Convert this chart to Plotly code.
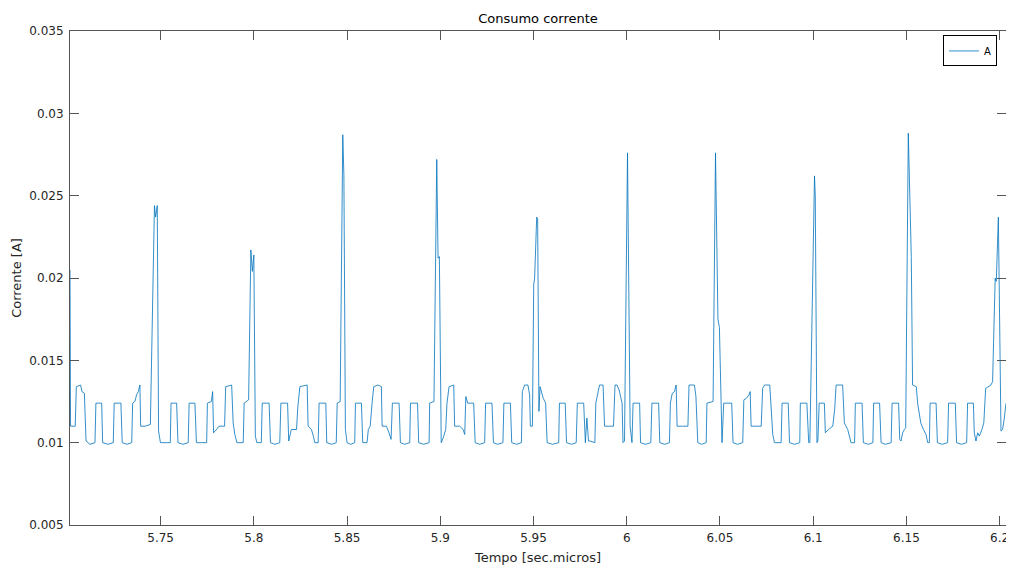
import plotly.graph_objects as go

# Time [s] and current [A]
time_s = [
    5.7014, 5.7017, 5.7042, 5.7048, 5.7071, 5.7078, 5.7091, 5.7100, 5.7121, 5.7148,
    5.7153, 5.7184, 5.7189, 5.7218, 5.7246, 5.7251, 5.7287, 5.7294, 5.7320, 5.7345,
    5.7350, 5.7362, 5.7371, 5.7380, 5.7389, 5.7393, 5.7416, 5.7445, 5.7467, 5.7473,
    5.7482, 5.7489, 5.7499, 5.7528, 5.7552, 5.7556, 5.7586, 5.7593, 5.7620, 5.7648,
    5.7653, 5.7684, 5.7692, 5.7721, 5.7747, 5.7751, 5.7772, 5.7779, 5.7784, 5.7800,
    5.7813, 5.7843, 5.7849, 5.7881, 5.7889, 5.7898, 5.7909, 5.7943, 5.7948, 5.7972,
    5.7984, 5.7992, 5.8000, 5.8008, 5.8016, 5.8040, 5.8045, 5.8082, 5.8089, 5.8113,
    5.8139, 5.8145, 5.8181, 5.8187, 5.8201, 5.8229, 5.8236, 5.8247, 5.8286, 5.8291,
    5.8309, 5.8319, 5.8327, 5.8345, 5.8350, 5.8386, 5.8391, 5.8418, 5.8442, 5.8447,
    5.8463, 5.8477, 5.8483, 5.8491, 5.8500, 5.8520, 5.8541, 5.8545, 5.8577, 5.8584,
    5.8607, 5.8614, 5.8624, 5.8635, 5.8643, 5.8665, 5.8684, 5.8688, 5.8711, 5.8725,
    5.8736, 5.8743, 5.8779, 5.8786, 5.8809, 5.8836, 5.8840, 5.8878, 5.8884, 5.8911,
    5.8940, 5.8943, 5.8966, 5.8981, 5.8988, 5.8995, 5.9005, 5.9016, 5.9029, 5.9036,
    5.9047, 5.9072, 5.9077, 5.9104, 5.9122, 5.9131, 5.9137, 5.9147, 5.9179, 5.9187,
    5.9211, 5.9238, 5.9243, 5.9277, 5.9285, 5.9308, 5.9336, 5.9341, 5.9376, 5.9383,
    5.9410, 5.9435, 5.9440, 5.9452, 5.9470, 5.9479, 5.9483, 5.9494, 5.9501, 5.9506,
    5.9517, 5.9522, 5.9529, 5.9535, 5.9543, 5.9552, 5.9565, 5.9573, 5.9602, 5.9635,
    5.9639, 5.9670, 5.9677, 5.9704, 5.9729, 5.9735, 5.9769, 5.9774, 5.9778, 5.9786,
    5.9795, 5.9803, 5.9829, 5.9834, 5.9845, 5.9854, 5.9873, 5.9881, 5.9908, 5.9929,
    5.9937, 5.9948, 5.9959, 5.9970, 5.9975, 5.9980, 5.9988, 6.0004, 6.0018, 6.0028,
    6.0034, 6.0069, 6.0074, 6.0101, 6.0129, 6.0135, 6.0171, 6.0177, 6.0203, 6.0229,
    6.0234, 6.0244, 6.0256, 6.0265, 6.0270, 6.0299, 6.0328, 6.0334, 6.0363, 6.0371,
    6.0381, 6.0401, 6.0426, 6.0430, 6.0463, 6.0476, 6.0484, 6.0489, 6.0497, 6.0511,
    6.0520, 6.0563, 6.0570, 6.0594, 6.0622, 6.0628, 6.0642, 6.0655, 6.0662, 6.0667,
    6.0690, 6.0721, 6.0729, 6.0739, 6.0767, 6.0776, 6.0783, 6.0792, 6.0828, 6.0833,
    6.0866, 6.0873, 6.0899, 6.0928, 6.0931, 6.0966, 6.0976, 6.0982, 6.1007, 6.1011,
    6.1020, 6.1025, 6.1032, 6.1060, 6.1065, 6.1082, 6.1105, 6.1115, 6.1123, 6.1158,
    6.1167, 6.1185, 6.1194, 6.1203, 6.1222, 6.1226, 6.1262, 6.1269, 6.1296, 6.1320,
    6.1324, 6.1356, 6.1364, 6.1387, 6.1418, 6.1423, 6.1458, 6.1464, 6.1471, 6.1480,
    6.1489, 6.1496, 6.1510, 6.1517, 6.1526, 6.1533, 6.1553, 6.1560, 6.1566, 6.1577,
    6.1591, 6.1605, 6.1614, 6.1623, 6.1627, 6.1659, 6.1666, 6.1692, 6.1721, 6.1726,
    6.1762, 6.1769, 6.1794, 6.1823, 6.1828, 6.1859, 6.1864, 6.1873, 6.1882, 6.1891,
    6.1905, 6.1915, 6.1925, 6.1953, 6.1962, 6.1971, 6.1976, 6.1982, 6.1989, 6.1993,
    6.2007, 6.2016, 6.2025, 6.2030, 6.2034,
]

current_a = [
    0.0205, 0.0110, 0.0110, 0.0134, 0.0135, 0.0131, 0.0130, 0.0101, 0.0099, 0.0100,
    0.0124, 0.0124, 0.0100, 0.0099, 0.0100, 0.0124, 0.0124, 0.0100, 0.0099, 0.0100,
    0.0124, 0.0125, 0.0129, 0.0131, 0.0135, 0.0110, 0.0110, 0.0111, 0.0244, 0.0237,
    0.0244, 0.0107, 0.0100, 0.0100, 0.0100, 0.0124, 0.0124, 0.0100, 0.0099, 0.0100,
    0.0124, 0.0124, 0.0100, 0.0100, 0.0100, 0.0124, 0.0125, 0.0131, 0.0106, 0.0108,
    0.0110, 0.0110, 0.0134, 0.0135, 0.0112, 0.0105, 0.0100, 0.0100, 0.0124, 0.0126,
    0.0217, 0.0204, 0.0214, 0.0104, 0.0100, 0.0100, 0.0124, 0.0124, 0.0100, 0.0099,
    0.0100, 0.0124, 0.0124, 0.0101, 0.0108, 0.0108, 0.0122, 0.0134, 0.0135, 0.0110,
    0.0108, 0.0104, 0.0100, 0.0100, 0.0124, 0.0124, 0.0100, 0.0099, 0.0100, 0.0124,
    0.0125, 0.0287, 0.0262, 0.0108, 0.0100, 0.0099, 0.0100, 0.0124, 0.0124, 0.0100,
    0.0100, 0.0108, 0.0110, 0.0125, 0.0134, 0.0135, 0.0134, 0.0110, 0.0110, 0.0106,
    0.0102, 0.0124, 0.0124, 0.0100, 0.0099, 0.0100, 0.0124, 0.0124, 0.0100, 0.0099,
    0.0100, 0.0124, 0.0125, 0.0272, 0.0212, 0.0213, 0.0100, 0.0103, 0.0108, 0.0124,
    0.0134, 0.0135, 0.0110, 0.0110, 0.0108, 0.0105, 0.0128, 0.0124, 0.0124, 0.0100,
    0.0099, 0.0100, 0.0124, 0.0124, 0.0100, 0.0099, 0.0100, 0.0124, 0.0124, 0.0100,
    0.0099, 0.0100, 0.0131, 0.0135, 0.0135, 0.0129, 0.0110, 0.0110, 0.0196, 0.0200,
    0.0237, 0.0236, 0.0119, 0.0134, 0.0130, 0.0127, 0.0124, 0.0100, 0.0099, 0.0100,
    0.0124, 0.0124, 0.0100, 0.0099, 0.0100, 0.0124, 0.0124, 0.0100, 0.0100, 0.0115,
    0.0101, 0.0101, 0.0100, 0.0124, 0.0130, 0.0135, 0.0135, 0.0110, 0.0110, 0.0110,
    0.0135, 0.0135, 0.0132, 0.0127, 0.0124, 0.0100, 0.0101, 0.0276, 0.0110, 0.0100,
    0.0124, 0.0124, 0.0100, 0.0099, 0.0100, 0.0124, 0.0124, 0.0100, 0.0099, 0.0100,
    0.0124, 0.0130, 0.0131, 0.0135, 0.0110, 0.0110, 0.0110, 0.0135, 0.0135, 0.0128,
    0.0100, 0.0099, 0.0100, 0.0124, 0.0125, 0.0276, 0.0225, 0.0175, 0.0170, 0.0100,
    0.0124, 0.0124, 0.0100, 0.0099, 0.0100, 0.0126, 0.0127, 0.0129, 0.0131, 0.0110,
    0.0110, 0.0110, 0.0133, 0.0135, 0.0135, 0.0120, 0.0105, 0.0100, 0.0100, 0.0124,
    0.0124, 0.0100, 0.0099, 0.0100, 0.0124, 0.0124, 0.0100, 0.0100, 0.0262, 0.0250,
    0.0100, 0.0101, 0.0124, 0.0124, 0.0106, 0.0108, 0.0110, 0.0120, 0.0135, 0.0135,
    0.0112, 0.0108, 0.0104, 0.0100, 0.0100, 0.0124, 0.0124, 0.0100, 0.0099, 0.0100,
    0.0124, 0.0124, 0.0100, 0.0099, 0.0100, 0.0124, 0.0124, 0.0102, 0.0101, 0.0106,
    0.0108, 0.0109, 0.0288, 0.0250, 0.0213, 0.0135, 0.0134, 0.0124, 0.0119, 0.0112,
    0.0108, 0.0105, 0.0100, 0.0100, 0.0124, 0.0124, 0.0100, 0.0099, 0.0100, 0.0124,
    0.0124, 0.0100, 0.0099, 0.0100, 0.0124, 0.0124, 0.0106, 0.0101, 0.0106, 0.0104,
    0.0108, 0.0112, 0.0133, 0.0135, 0.0137, 0.0190, 0.0200, 0.0198, 0.0237, 0.0237,
    0.0107, 0.0108, 0.0115, 0.0124, 0.0124,
]

x_ticks = [5.75, 5.8, 5.85, 5.9, 5.95, 6.0, 6.05, 6.1, 6.15, 6.2]
x_tick_labels = ["5.75", "5.8", "5.85", "5.9", "5.95", "6", "6.05", "6.1", "6.15", "6.2"]
y_ticks = [0.005, 0.01, 0.015, 0.02, 0.025, 0.03, 0.035]
y_tick_labels = ["0.005", "0.01", "0.015", "0.02", "0.025", "0.03", "0.035"]
x_range = [5.7014, 6.2034]
y_range = [0.005, 0.035]

TEXT = "#262626"
AXIS = "#555555"
FONT = "DejaVu Sans, Liberation Sans, sans-serif"

fig = go.Figure()
fig.add_trace(go.Scatter(
    x=time_s, y=current_a, mode="lines", name="A",
    line=dict(color="#0072BD", width=0.8),
))

axis_common = dict(
    showgrid=False, zeroline=False, showline=True, linecolor=AXIS, linewidth=1,
    mirror="ticks", ticks="inside", ticklen=9, tickwidth=1, tickcolor=AXIS,
    tickfont=dict(family=FONT, size=12, color=TEXT),
    automargin=False, ticklabeloverflow="allow",
)

# The page body adds an 8 px offset, so the figure is sized to fit the window
fig.update_layout(
    width=1006, height=558,
    margin=dict(l=62, r=8, t=23, b=41, autoexpand=False),
    paper_bgcolor="white", plot_bgcolor="white",
    font=dict(family=FONT, size=12, color=TEXT),
    title=dict(text="Consumo corrente", x=0.5, xref="paper", xanchor="center",
               y=1, yref="paper", yanchor="bottom", pad=dict(b=8),
               font=dict(family=FONT, size=13, color="#000000")),
    xaxis=dict(range=x_range, tickmode="array", tickvals=x_ticks, ticktext=x_tick_labels,
               ticklabelstandoff=2,
               title=dict(text="Tempo [sec.micros]", standoff=8,
                          font=dict(family=FONT, size=13, color=TEXT)),
               **axis_common),
    yaxis=dict(range=y_range, tickmode="array", tickvals=y_ticks, ticktext=y_tick_labels,
               ticklabelstandoff=3,
               title=dict(text="Corrente [A]", standoff=4,
                          font=dict(family=FONT, size=13, color=TEXT)),
               **axis_common),
    showlegend=True,
    legend=dict(x=0.9904, y=0.991, xanchor="right", yanchor="top",
                bgcolor="white", bordercolor="#000000", borderwidth=1,
                font=dict(family=FONT, size=10, color="#000000"),
                itemwidth=30, tracegroupgap=0),
)

fig.write_html("out.html")
